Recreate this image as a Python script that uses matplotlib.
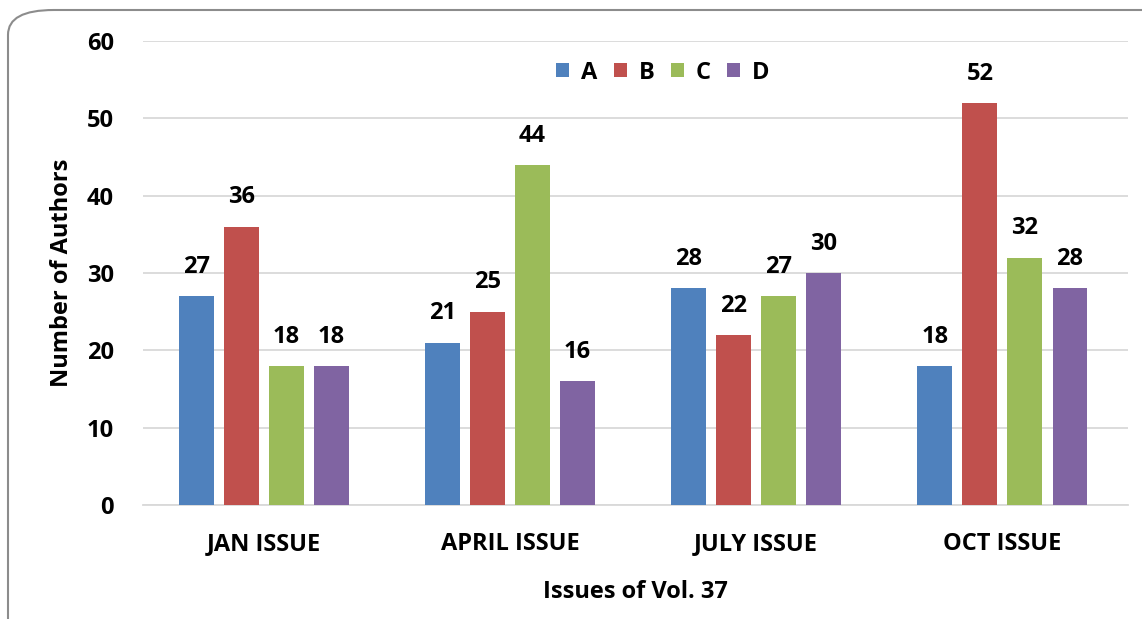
import matplotlib
matplotlib.use("Agg")
import matplotlib.pyplot as plt
import numpy as np
from matplotlib.patches import FancyBboxPatch

categories = ["JAN ISSUE", "APRIL ISSUE", "JULY ISSUE", "OCT ISSUE"]
series_names = ["A", "B", "C", "D"]
A = [27, 21, 28, 18]
B = [36, 25, 22, 52]
C = [18, 44, 27, 32]
D = [18, 16, 30, 28]
colors = ["#4f81bd", "#c0504d", "#9bbb59", "#8064a2"]

plt.rcParams['font.family'] = ['Open Sans', 'DejaVu Sans']
plt.rcParams['font.weight'] = 'bold'

fig = plt.figure(figsize=(11.42, 6.19), dpi=100)
ax = fig.add_axes([143/1142, 1-505/619, (1128-143)/1142, (505-41)/619])

FS = 17
x = np.arange(len(categories))
width = 0.142
pitch = 0.183
data = [A, B, C, D]
for i, (vals, name, col) in enumerate(zip(data, series_names, colors)):
    pos = x + (i - 1.5) * pitch
    bars = ax.bar(pos, vals, width, color=col, label=name, zorder=3)
    for b, v in zip(bars, vals):
        ax.annotate(str(v), (b.get_x() + b.get_width()/2, v), xytext=(0, 21),
                    textcoords='offset points', ha='center', va='center',
                    fontsize=FS, fontweight='bold')

ax.set_xlim(-0.49, 3.51)
ax.set_ylim(0, 60)
ax.set_yticks(range(0, 61, 10))
ax.set_xticks(x)
ax.set_xticklabels(categories)
ax.yaxis.grid(True, color='#d9d9d9', lw=1.3, zorder=0)
ax.tick_params(axis='both', length=0, labelsize=FS)
ax.tick_params(axis='y', pad=21)
ax.tick_params(axis='x', pad=19.5)
for s in ['top', 'right', 'left']:
    ax.spines[s].set_visible(False)
ax.spines['bottom'].set_color('#d9d9d9')
ax.spines['bottom'].set_linewidth(1.3)
for lab in ax.get_xticklabels() + ax.get_yticklabels():
    lab.set_fontweight('bold')

ax.set_ylabel("Number of Authors", fontsize=FS, fontweight='bold', labelpad=9)
ax.set_xlabel("Issues of Vol. 37", fontsize=FS, fontweight='bold', labelpad=17)

leg = ax.legend(loc='center', bbox_to_anchor=(0.528, 0.932), ncol=4, frameon=False,
                fontsize=FS, handlelength=0.55, handleheight=0.55, handletextpad=0.5,
                columnspacing=0.7, borderpad=0)
for t in leg.get_texts():
    t.set_fontweight('bold')

border = FancyBboxPatch((8/1142, -0.1), 1.2, 1 - 10/619 + 0.1,
                        boxstyle="round,pad=0,rounding_size=0.04",
                        transform=fig.transFigure, fill=False, edgecolor='#8c8c8c',
                        lw=1.5, clip_on=False)
fig.patches.append(border)

fig.savefig("out.png", dpi=100)
